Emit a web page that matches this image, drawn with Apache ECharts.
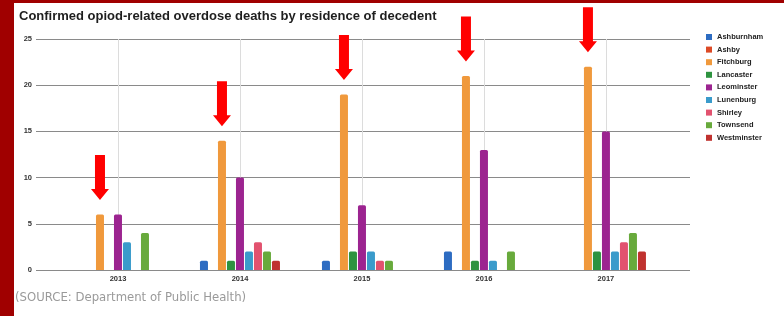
<!DOCTYPE html>
<html>
<head>
<meta charset="utf-8">
<script src="https://cdn.jsdelivr.net/npm/echarts@6/dist/echarts.min.js"></script>
<style>
  html, body { margin: 0; padding: 0; background: #fff; }
  #main { width: 784px; height: 316px; }
</style>
</head>
<body>
<div id="main"></div>
<script>
// years on the x axis
var years = ['2013', '2014', '2015', '2016', '2017'];

// deaths per town, one value per year
var towns = ['Ashburnham', 'Ashby', 'Fitchburg', 'Lancaster', 'Leominster', 'Lunenburg', 'Shirley', 'Townsend', 'Westminster'];
var ashburnham  = [0, 1, 1, 2, 0];
var ashby       = [0, 0, 0, 0, 0];
var fitchburg   = [6, 14, 19, 21, 22];
var lancaster   = [0, 1, 2, 1, 2];
var leominster  = [6, 10, 7, 13, 15];
var lunenburg   = [3, 2, 2, 1, 2];
var shirley     = [0, 3, 1, 0, 3];
var townsend    = [4, 2, 1, 2, 4];
var westminster = [0, 1, 0, 0, 2];

var colors = ['#2d6cc2', '#dc4a26', '#f0993c', '#2e9340', '#9c2490', '#3a9bcb', '#e2526f', '#68aa3c', '#c0322f'];
var values = [ashburnham, ashby, fitchburg, lancaster, leominster, lunenburg, shirley, townsend, westminster];

var boldFont = 'Liberation Sans';

// red arrows pointing at the Fitchburg bars
var arrowPath = 'path://M4 0 L14 0 L14 34 L18 34 L9 45 L0 34 L4 34 Z';

var series = towns.map(function (name, k) {
  var s = {
    name: name,
    type: 'bar',
    barWidth: 8,
    barGap: '12.5%',
    itemStyle: { color: colors[k], borderRadius: [1.5, 1.5, 0, 0] },
    data: values[k].map(function (v, i) { return [i, v]; })
  };
  if (name === 'Fitchburg') {
    s.markPoint = {
      symbol: arrowPath,
      symbolSize: [18, 45],
      symbolOffset: [0, -37],
      silent: true,
      label: { show: false },
      itemStyle: { color: '#ff0000' },
      data: fitchburg.map(function (v, i) { return { coord: [i, v] }; })
    };
  }
  return s;
});

var chart = echarts.init(document.getElementById('main'), null, { renderer: 'canvas' });

var option = {
  backgroundColor: '#ffffff',
  animation: false,
  color: colors,
  title: {
    text: 'Confirmed opiod-related overdose deaths by residence of decedent',
    left: 19,
    top: 10,
    padding: 0,
    textStyle: { fontFamily: boldFont, fontSize: 13, fontWeight: 'bold', color: '#1e1e1e' }
  },
  legend: {
    orient: 'vertical',
    left: 706,
    top: 33,
    padding: 0,
    icon: 'rect',
    itemWidth: 6,
    itemHeight: 6,
    itemGap: 4.6,
    data: towns,
    textStyle: { fontFamily: boldFont, fontSize: 7.5, fontWeight: 'bold', color: '#222', lineHeight: 8 }
  },
  grid: { left: 36, right: 94, top: 39, bottom: 46 },
  xAxis: {
    type: 'value',
    min: -0.672,
    max: 4.689,
    minInterval: 1,
    maxInterval: 1,
    axisLine: { show: false },
    axisTick: { show: false },
    axisLabel: {
      fontFamily: boldFont, fontSize: 7.5, fontWeight: 'bold', color: '#333', margin: 5,
      showMinLabel: false, showMaxLabel: false,
      formatter: function (v) { return Number.isInteger(v) && years[v] ? years[v] : ''; }
    },
    splitLine: { show: true, showMinLine: false, showMaxLine: false, lineStyle: { color: '#dcdcdc', width: 1 } }
  },
  yAxis: {
    type: 'value',
    min: 0,
    max: 25,
    interval: 5,
    axisLine: { show: false },
    axisTick: { show: false },
    axisLabel: { fontFamily: boldFont, fontSize: 7.5, fontWeight: 'bold', color: '#333', margin: 4 },
    splitLine: { lineStyle: { color: '#8a8a8a', width: 1 } }
  },
  graphic: [
    { type: 'rect', left: 0, top: 0, shape: { width: 14, height: 316 }, style: { fill: '#a00000' }, z: 100 },
    { type: 'rect', left: 0, top: 0, shape: { width: 784, height: 3 }, style: { fill: '#a00000' }, z: 100 },
    {
      type: 'text', left: 15, top: 292,
      style: { text: '(SOURCE: Department of Public Health)', fontFamily: 'DejaVu Sans', fontSize: 11.7, fill: '#9a9a9a' }
    }
  ],
  series: series
};

chart.setOption(option);
</script>
</body>
</html>
